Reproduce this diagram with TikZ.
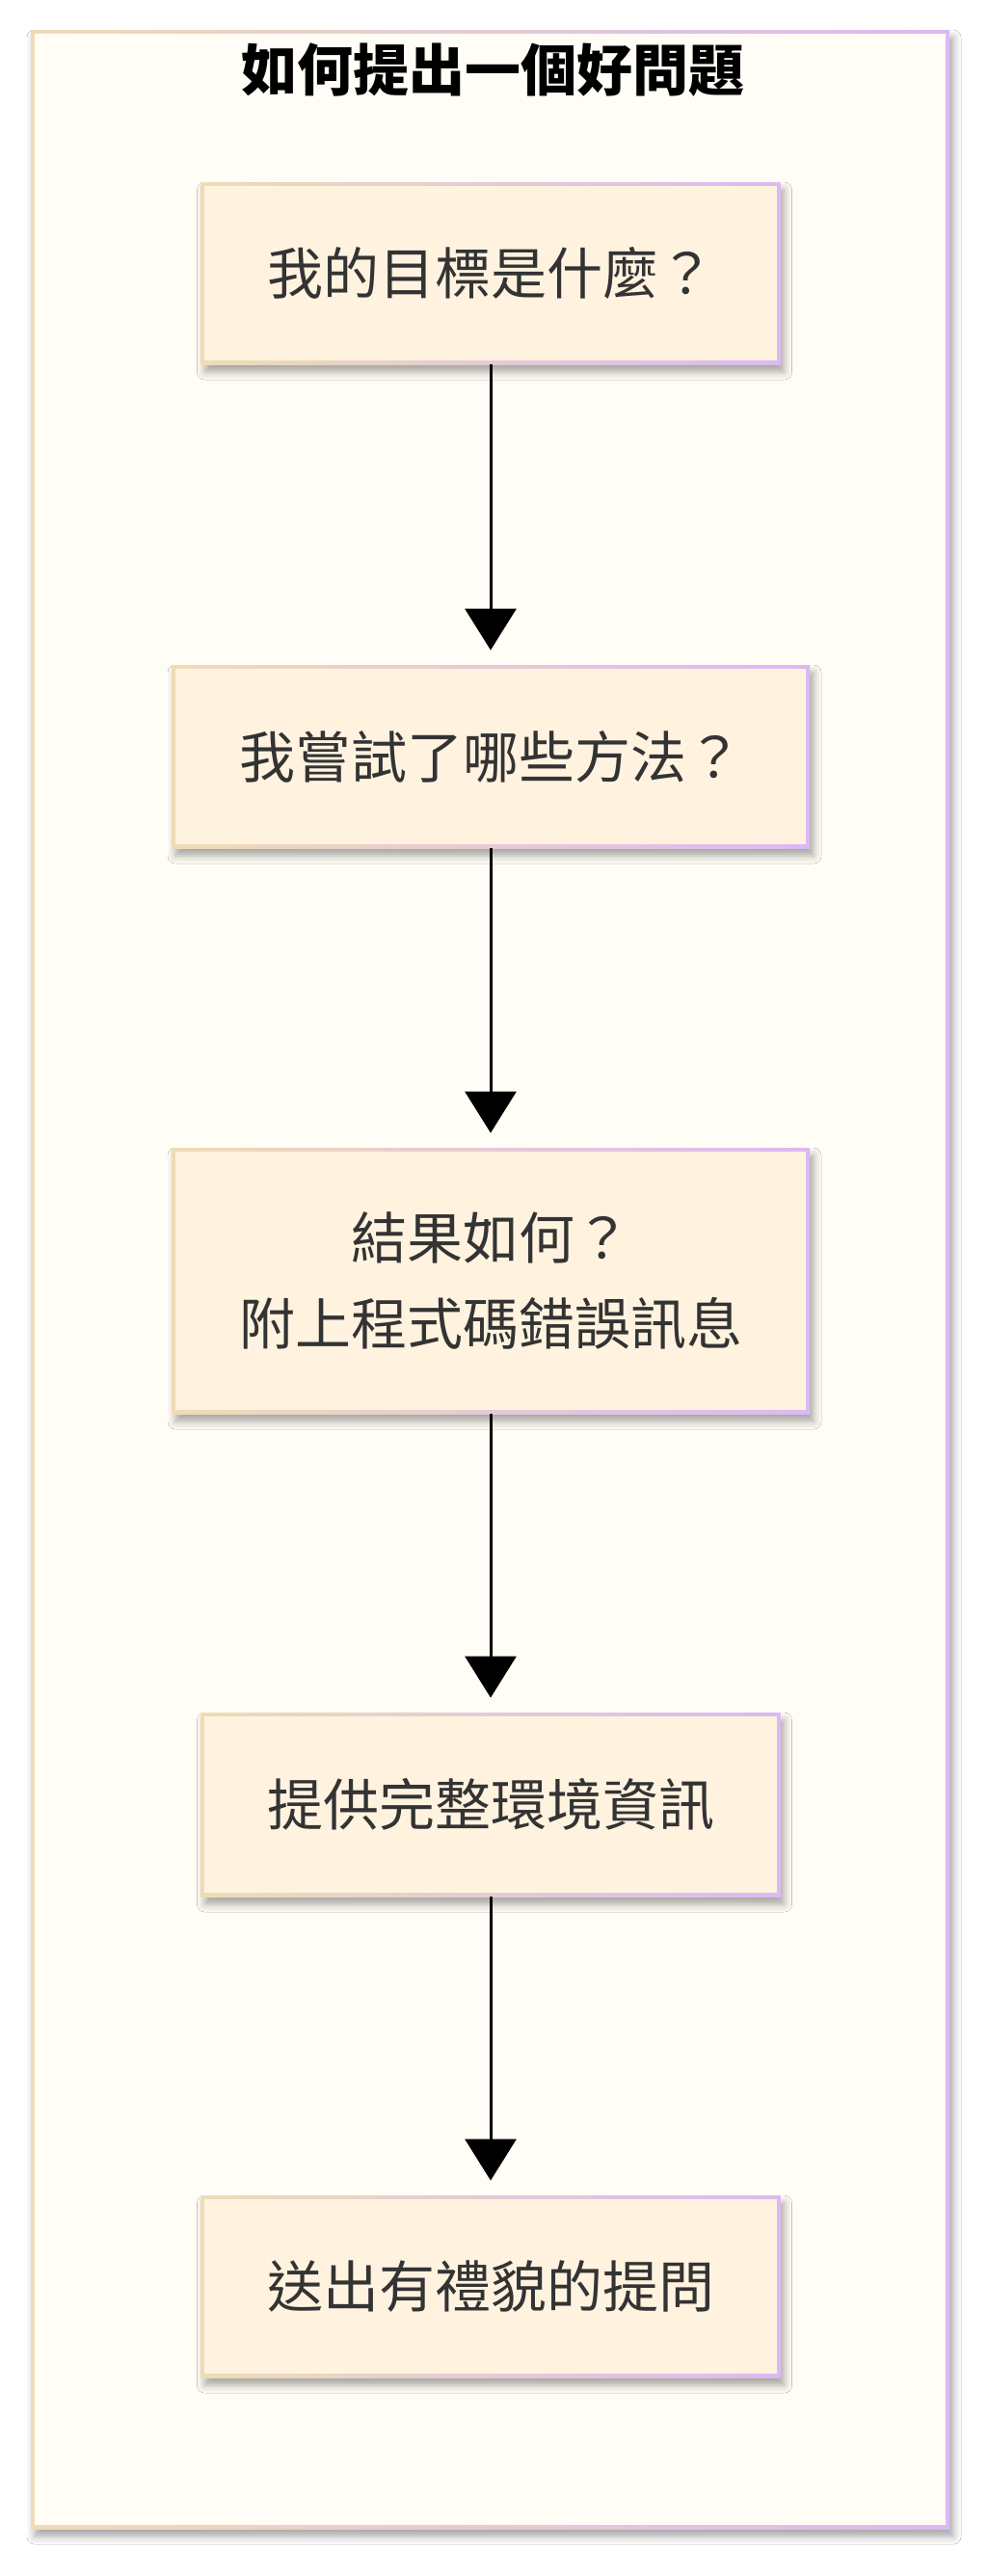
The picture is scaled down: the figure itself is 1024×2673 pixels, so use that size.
\documentclass[tikz,border=0pt]{standalone}
\usepackage{fontspec}
\setmainfont{Noto Sans CJK TC}
\usetikzlibrary{shadows.blur,calc,arrows.meta}
\definecolor{outerfill}{HTML}{FFFDF6}
\definecolor{nodefill}{HTML}{FFF3E0}
\definecolor{bordL}{HTML}{EEDCB6}
\definecolor{bordR}{HTML}{DCB9F2}
\definecolor{txt}{HTML}{333333}
\tikzset{
  gbox/.style={rectangle, inner sep=0pt, left color=bordL, right color=bordR,
    blur shadow={shadow xshift=2pt, shadow yshift=-4pt, shadow blur radius=4pt, shadow opacity=35},
    path picture={\fill[#1] ($(path picture bounding box.south west)+(1.8pt,1.8pt)$) rectangle ($(path picture bounding box.north east)+(-1.8pt,-1.8pt)$);}},
  stepbox/.style={gbox=nodefill, text=txt, font=\fontsize{29}{44.5}\selectfont, align=center},
  arr/.style={line width=1.5pt, draw=black, -{Triangle[width=26.5pt,length=21.5pt]}, shorten >=7.5pt}
}
\begin{document}
\begin{tikzpicture}[x=0.5pt,y=-0.5pt]
\useasboundingbox[fill=white] (0,0) rectangle (1024,2673);
\node[gbox=outerfill, minimum width=476.5pt, minimum height=1296.5pt] (outer) at (508.5,1327.5) {};
\node[font=\bfseries\fontsize{29}{34}\selectfont, text=black] (title) at (511,73) {如何提出一個好問題};
\node[stepbox, minimum width=300.5pt, minimum height=94.5pt] (n1) at (509,283.5) {我的目標是什麼？};
\node[stepbox, minimum width=331pt, minimum height=95pt] (n2) at (509,785) {我嘗試了哪些方法？};
\node[stepbox, minimum width=331pt, minimum height=138pt] (n3) at (509,1329) {結果如何？\\附上程式碼錯誤訊息};
\node[stepbox, minimum width=300.5pt, minimum height=95.5pt] (n4) at (509,1872.5) {提供完整環境資訊};
\node[stepbox, minimum width=300.5pt, minimum height=94.5pt] (n5) at (509,2372.5) {送出有禮貌的提問};
\draw[arr] (n1.south) -- (n2.north);
\draw[arr] (n2.south) -- (n3.north);
\draw[arr] (n3.south) -- (n4.north);
\draw[arr] (n4.south) -- (n5.north);
\end{tikzpicture}
\end{document}
